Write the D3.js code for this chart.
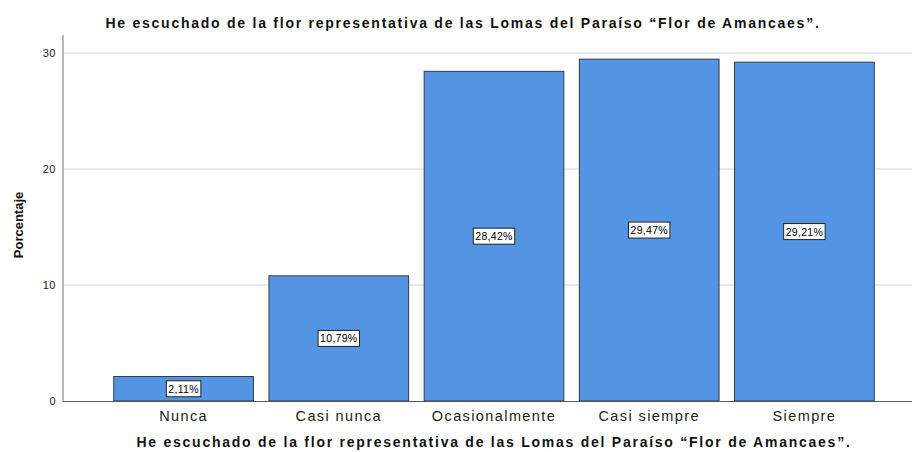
<!DOCTYPE html>
<html>
<head>
<meta charset="utf-8">
<script src="https://cdn.jsdelivr.net/npm/d3@7"></script>
<style>
  body { margin: 0; background: #fff; }
  svg { display: block; }
</style>
</head>
<body>
<script>
(function(){

    //chart data
    var categories = ["Nunca", "Casi nunca", "Ocasionalmente", "Casi siempre", "Siempre"];
    var percentages = [2.11, 10.79, 28.42, 29.47, 29.21];
    var labels = ["2,11%", "10,79%", "28,42%", "29,47%", "29,21%"];
    var yTicks = [0, 10, 20, 30];
    var title = "He escuchado de la flor representativa de las Lomas del Paraíso \u201cFlor de Amancaes\u201d.";

    var width = 912,
        height = 452;

    var svg = d3.select("body")
        .append("svg")
        .attr("width", width)
        .attr("height", height);

    //scales
    var x = d3.scaleBand()
        .domain(categories)
        .range([106, 882])
        .paddingInner(0.1)
        .paddingOuter(0.05);

    var y = d3.scaleLinear()
        .domain([0, 30])
        .range([401, 53]);

    //gridlines
    svg.selectAll(".grid")
        .data(yTicks.slice(1))
        .enter()
        .append("line")
        .attr("x1", 63)
        .attr("x2", width)
        .attr("y1", function(d){ return y(d); })
        .attr("y2", function(d){ return y(d); })
        .attr("stroke", "#d4d4d4")
        .attr("stroke-width", 1.2);

    //bars
    svg.selectAll(".bar")
        .data(percentages)
        .enter()
        .append("rect")
        .attr("x", function(d, i){ return x(categories[i]); })
        .attr("y", function(d){ return y(d); })
        .attr("width", x.bandwidth())
        .attr("height", function(d){ return y(0) - y(d); })
        .attr("fill", "#5495e3")
        .attr("stroke", "#323a47")
        .attr("stroke-width", 1);

    //axes lines
    svg.append("line")
        .attr("x1", 63).attr("x2", 63)
        .attr("y1", 35).attr("y2", 401.5)
        .attr("stroke", "#8c8c8c").attr("stroke-width", 1.2);
    svg.append("line")
        .attr("x1", 63).attr("x2", width)
        .attr("y1", 401.5).attr("y2", 401.5)
        .attr("stroke", "#555").attr("stroke-width", 1.2);

    //y tick labels
    svg.selectAll(".ytick")
        .data(yTicks)
        .enter()
        .append("text")
        .attr("x", 56)
        .attr("y", function(d){ return y(d) + 4; })
        .attr("text-anchor", "end")
        .attr("font-family", "Liberation Sans, Arial, sans-serif")
        .attr("font-size", 11)
        .attr("letter-spacing", 0.5)
        .attr("fill", "#222")
        .text(function(d){ return d; });

    //category labels
    svg.selectAll(".xtick")
        .data(categories)
        .enter()
        .append("text")
        .attr("x", function(d){ return x(d) + x.bandwidth() / 2; })
        .attr("y", 421)
        .attr("text-anchor", "middle")
        .attr("font-family", "Liberation Sans, Arial, sans-serif")
        .attr("font-size", 14.5)
        .attr("letter-spacing", 1.4)
        .attr("fill", "#222")
        .text(function(d){ return d; });

    //value labels with boxes
    var lab = svg.selectAll(".vlab")
        .data(percentages)
        .enter()
        .append("g")
        .attr("transform", function(d, i){
            return "translate(" + (x(categories[i]) + x.bandwidth() / 2) + "," + ((y(d) + y(0)) / 2) + ")";
        });

    lab.append("text")
        .attr("text-anchor", "middle")
        .attr("y", 4)
        .attr("font-family", "Liberation Sans, Arial, sans-serif")
        .attr("font-size", 10.5)
        .attr("letter-spacing", 0.3)
        .attr("fill", "#000")
        .text(function(d, i){ return labels[i]; })
        .each(function(){
            var bb = this.getBBox();
            d3.select(this.parentNode).insert("rect", "text")
                .attr("x", bb.x - 2)
                .attr("y", -8)
                .attr("width", bb.width + 4)
                .attr("height", 16)
                .attr("fill", "#fff")
                .attr("stroke", "#222")
                .attr("stroke-width", 1);
        });

    //title
    svg.append("text")
        .attr("x", 463)
        .attr("y", 28)
        .attr("text-anchor", "middle")
        .attr("font-family", "Liberation Sans, Arial, sans-serif")
        .attr("font-weight", "bold")
        .attr("font-size", 14)
        .attr("letter-spacing", 1.75)
        .attr("fill", "#111")
        .text(title);

    //x axis title
    svg.append("text")
        .attr("x", 494)
        .attr("y", 447)
        .attr("text-anchor", "middle")
        .attr("font-family", "Liberation Sans, Arial, sans-serif")
        .attr("font-weight", "bold")
        .attr("font-size", 14)
        .attr("letter-spacing", 1.75)
        .attr("fill", "#111")
        .text(title);

    //y axis title
    svg.append("text")
        .attr("transform", "translate(23,225) rotate(-90)")
        .attr("text-anchor", "middle")
        .attr("font-family", "Liberation Sans Narrow, Liberation Sans, Arial, sans-serif")
        .attr("font-weight", "bold")
        .attr("font-size", 13)
        .attr("fill", "#111")
        .text("Porcentaje");

})();
</script>
</body>
</html>
